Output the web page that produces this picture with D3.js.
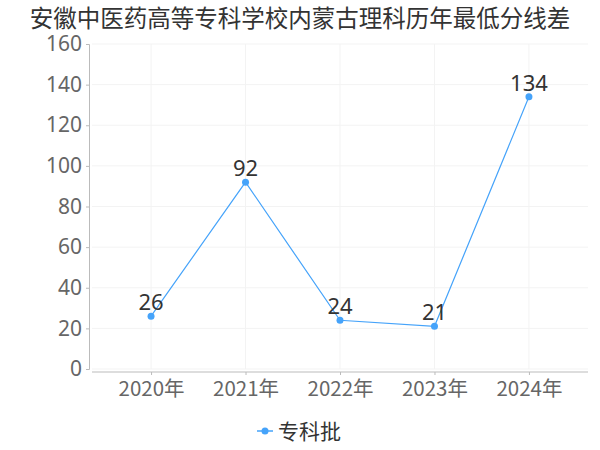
<!DOCTYPE html>
<html><head><meta charset="UTF-8">
<title>安徽中医药高等专科学校内蒙古理科历年最低分线差</title>
<script src="https://d3js.org/d3.v7.min.js"></script>
<style>
  body { margin: 0; background: #fff; }
  text { font-family: "Noto Sans CJK SC", "Noto Sans", sans-serif; }
</style>
</head>
<body>
<svg id="chart" width="600" height="450"></svg>
<script>
  // 数据
  var years = ["2020年", "2021年", "2022年", "2023年", "2024年"];
  var values = [26, 92, 24, 21, 134];
  var yTicks = [0, 20, 40, 60, 80, 100, 120, 140, 160];
  var seriesName = "专科批";
  var title = "安徽中医药高等专科学校内蒙古理科历年最低分线差";

  var color = "#45a3fa";
  var svg = d3.select("#chart");

  var x = d3.scalePoint().domain(years).range([92, 588]).padding(0.625);
  var y = d3.scaleLinear().domain([0, 160]).range([369, 44]);

  // 标题
  svg.append("text")
    .attr("x", 300).attr("y", 27)
    .attr("text-anchor", "middle")
    .attr("font-size", 23.5).attr("fill", "#333")
    .text(title);

  // 网格线
  svg.append("g").selectAll("line").data(yTicks).enter().append("line")
    .attr("x1", 92).attr("x2", 588)
    .attr("y1", function(d){ return y(d); }).attr("y2", function(d){ return y(d); })
    .attr("stroke", "#f3f3f3");
  svg.append("g").selectAll("line").data(years).enter().append("line")
    .attr("x1", function(d){ return x(d); }).attr("x2", function(d){ return x(d); })
    .attr("y1", 44).attr("y2", 369)
    .attr("stroke", "#f3f3f3");

  // y轴
  var yAxis = svg.append("g").attr("transform", "translate(89,0)")
    .call(d3.axisLeft(y).tickValues(yTicks).tickSize(3).tickPadding(4));
  yAxis.selectAll("path, line").attr("stroke", "#bbb");
  yAxis.selectAll("text").attr("font-size", 21).attr("fill", "#666")
    .style("font-family", "'Noto Sans', sans-serif");

  // x轴
  var xAxis = svg.append("g").attr("transform", "translate(0,372)")
    .call(d3.axisBottom(x).tickSize(3).tickPadding(6));
  xAxis.select("path").attr("d", "M92,0H588").attr("stroke", "#bbb");
  xAxis.selectAll("line").attr("stroke", "#bbb");
  xAxis.selectAll("text").attr("font-size", 20.5).attr("fill", "#666");

  // 折线
  var line = d3.line()
    .x(function(d, i){ return x(years[i]); })
    .y(function(d){ return y(d); });
  svg.append("path").datum(values)
    .attr("d", line).attr("fill", "none")
    .attr("stroke", color).attr("stroke-width", 1.2);

  svg.append("g").selectAll("circle").data(values).enter().append("circle")
    .attr("cx", function(d, i){ return x(years[i]); })
    .attr("cy", function(d){ return y(d); })
    .attr("r", 3.5).attr("fill", color);

  svg.append("g").selectAll("text").data(values).enter().append("text")
    .attr("x", function(d, i){ return x(years[i]); })
    .attr("y", function(d){ return y(d) - 6; })
    .attr("text-anchor", "middle")
    .attr("font-size", 22).attr("fill", "#333")
    .style("font-family", "'Noto Sans', sans-serif")
    .text(function(d){ return d; });

  // 图例
  var lg = svg.append("g").attr("transform", "translate(265,431)");
  lg.append("line").attr("x1", -8).attr("x2", 8).attr("stroke", color).attr("stroke-width", 1.5);
  lg.append("circle").attr("r", 3.5).attr("fill", color);
  lg.append("text").attr("x", 13).attr("y", 8)
    .attr("font-size", 21).attr("fill", "#333")
    .text(seriesName);
</script>
</body></html>
